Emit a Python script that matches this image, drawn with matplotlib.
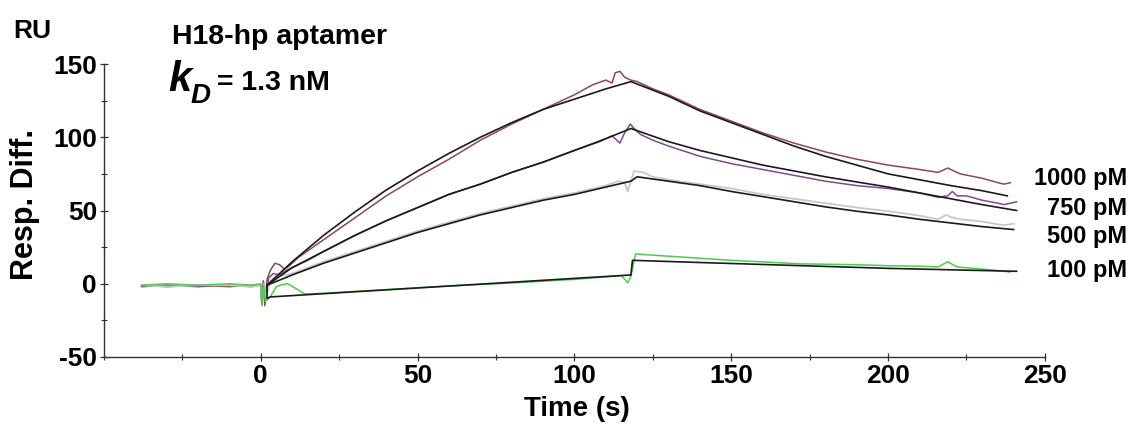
import matplotlib
matplotlib.use("Agg")
import matplotlib.pyplot as plt
from matplotlib.ticker import MultipleLocator

plt.rcParams['font.family'] = ['Liberation Sans', 'DejaVu Sans']
plt.rcParams['axes.unicode_minus'] = False

t_1000 = [-38, -30, -20, -10, -3, 0, 0.3, 0.8, 1.3, 2, 3, 4.5, 6, 7.5, 9, 12, 16, 20, 30, 40, 50, 60,
          70, 80, 90, 100, 106, 110, 112, 113, 114.5, 116, 118, 120, 125, 130, 140, 150, 160, 170,
          180, 190, 200, 210, 216, 219, 221, 223, 230, 235, 237, 239]
y_1000 = [-1, -2, -1, -2, -1, -1, -14, 2, -15, 3, 9, 14, 13, 10, 12, 18, 24, 30, 45, 60, 73, 85,
          98, 109, 119, 129, 136, 139, 137, 144, 145, 141, 139, 138, 133, 129, 119, 111, 103, 96,
          90, 85, 81, 78, 76, 79, 77, 75, 72, 69, 68, 69]

t_750 = [-38, -30, -20, -10, -3, 0, 0.4, 0.9, 1.5, 2.5, 4, 6, 8, 10, 15, 20, 30, 40, 50, 60, 70,
         80, 90, 100, 108, 112, 114.5, 116, 117.8, 119, 121, 125, 130, 140, 150, 160, 170, 180,
         190, 200, 210, 216, 219, 220.5, 222, 225, 230, 235, 237, 239, 241]
y_750 = [-2, -1, -2, -1, -2, -1, -13, 1, -12, 4, 7, 6, 9, 11, 16, 22, 33, 43, 52, 61, 68,
         76, 83, 91, 97, 101, 96, 103, 109, 106, 102, 98, 94, 87, 82, 78, 74, 70,
         67, 65, 62, 59, 60, 63, 60, 60, 57, 55, 54, 55, 56]

t_500 = [-38, -30, -20, -10, -3, 0, 0.4, 1, 1.6, 3, 5, 8, 10, 15, 20, 30, 40, 50, 60, 70, 80, 90,
         100, 110, 114, 116, 117, 118, 119, 122, 125, 130, 140, 150, 160, 170, 180, 190, 200,
         210, 216, 218.5, 220, 223, 230, 235, 237, 240]
y_500 = [-1, -2, -1, -1, -2, -1, -12, 0, -10, 2, 5, 6, 7, 11, 15, 22, 29, 36, 42, 48, 53, 58,
         62, 67, 70, 69, 63, 70, 77, 76, 73, 71, 68, 65, 61, 58, 55, 52, 49.5,
         46.5, 44, 47, 45.5, 44, 42.5, 40.5, 40, 41]

t_100 = [-38, -30, -20, -10, -3, 0, 0.4, 0.9, 1.5, 3, 5, 7, 8.6, 11, 14, 20, 40, 60, 80, 100, 115,
         117, 118, 119.5, 125, 133, 150, 172, 190, 200, 210, 216, 219, 222, 230, 235, 239]
y_100 = [-1, 0, -1, 0, -1, 0, -15, -1, -12, -9, -2, -0.5, 0, -3, -7, -6.5, -4, -1.5, 0.5, 3, 5.5,
         0.7, 5, 20.4, 19.5, 18.4, 16, 13.6, 13, 12.3, 12, 11.5, 15, 11.5, 10, 9, 8]

# fitted curves
fit_t_1000 = [2, 10, 20, 30, 40, 50, 60, 70, 80, 90, 100, 110, 118, 130, 140, 150, 160, 170, 180,
              190, 200, 210, 220, 230, 238]
fit_y_1000 = [-1, 15, 33, 49, 64, 77, 89, 100, 110, 119, 126, 133, 138, 128, 118, 110, 102, 94, 87,
              81, 75, 71, 67, 63.5, 60]
fit_t_750 = [2, 10, 20, 30, 40, 50, 60, 70, 80, 90, 100, 110, 118, 130, 140, 150, 160, 170, 180,
             190, 200, 210, 220, 230, 241]
fit_y_750 = [-1, 11, 22, 33, 43, 52, 61, 68, 76, 83, 91, 99, 106, 97, 91, 86, 81, 77, 73,
             69.5, 66, 62, 58, 54, 50]
fit_t_500 = [2, 10, 20, 30, 40, 50, 60, 70, 80, 90, 100, 110, 118, 120, 130, 140, 150, 160, 170,
             180, 190, 200, 210, 220, 230, 240]
fit_y_500 = [-1, 6, 14, 21, 28, 35, 41, 47, 52, 57, 61, 66, 70, 73, 70, 67, 63, 59.5, 56,
             52.5, 49.5, 47, 44, 41.5, 39, 37]
fit_t_100 = [2, 2, 3, 118, 118.5, 140, 170, 200, 241]
fit_y_100 = [-1, -10, -9, 6, 16, 14.5, 12.5, 10.5, 8.5]

conc_labels = ["1000 pM", "750 pM", "500 pM", "100 pM"]

fig = plt.figure(figsize=(11.3, 4.25), dpi=100)
ax = fig.add_axes([0.092, 0.16, 0.8327, 0.6894])

# measured data
ax.plot(t_1000, y_1000, color='#8c4a4a', lw=1.1)
ax.plot(t_750, y_750, color='#7d4a8e', lw=1.1)
ax.plot(t_500, y_500, color='#c8c8c8', lw=1.3)
ax.plot(t_100, y_100, color='#4ccc4c', lw=1.1)

# fits
for ft, fy in [(fit_t_1000, fit_y_1000), (fit_t_750, fit_y_750),
               (fit_t_500, fit_y_500), (fit_t_100, fit_y_100)]:
    ax.plot(ft, fy, color='#1a1a1a', lw=1.2)

ax.set_xlim(-50, 250)
ax.set_ylim(-50, 150)
ax.yaxis.set_major_locator(MultipleLocator(50))
ax.yaxis.set_minor_locator(MultipleLocator(25))
ax.set_xticks([0, 50, 100, 150, 200, 250])
ax.set_xticks([-50, -25, 25, 75, 125, 175, 225], minor=True)

for s in ['top', 'right']:
    ax.spines[s].set_visible(False)
for s in ['left', 'bottom']:
    ax.spines[s].set_linewidth(1.0)
    ax.spines[s].set_color('#333333')

ax.tick_params(which='major', direction='inout', length=6, width=0.9, colors='#333333',
               labelcolor='black', labelsize=19, pad=2)
ax.tick_params(which='minor', direction='inout', length=4, width=0.8, colors='#333333')
for lab in ax.get_xticklabels() + ax.get_yticklabels():
    lab.set_fontweight('bold')

W, H = 1130.0, 425.0


def ftext(x, y, s, **kw):
    fig.text(x / W, 1 - y / H, s, **kw)


ftext(13, 31, "RU", fontsize=19, fontweight='bold', va='center', ha='left')
ftext(172, 37, "H18-hp aptamer", fontsize=20.5, fontweight='bold', va='center', ha='left')
ftext(168, 80, "k", fontsize=30, fontweight='bold', style='italic', va='center', ha='left')
ftext(191, 96, "D", fontsize=20, fontweight='bold', style='italic', va='center', ha='left')
ftext(217, 83, "= 1.3 nM", fontsize=20.5, fontweight='bold', va='center', ha='left')

ftext(25, 204, "Resp. Diff.", fontsize=22, fontweight='bold', rotation=90,
      va='center', ha='center')
ftext(577, 409, "Time (s)", fontsize=20, fontweight='bold', va='center', ha='center')

for lab, yy in zip(conc_labels, [179, 209, 237, 271]):
    ftext(1127, yy, lab, fontsize=17, fontweight='bold', va='center', ha='right')

fig.savefig("out.png", dpi=100)
